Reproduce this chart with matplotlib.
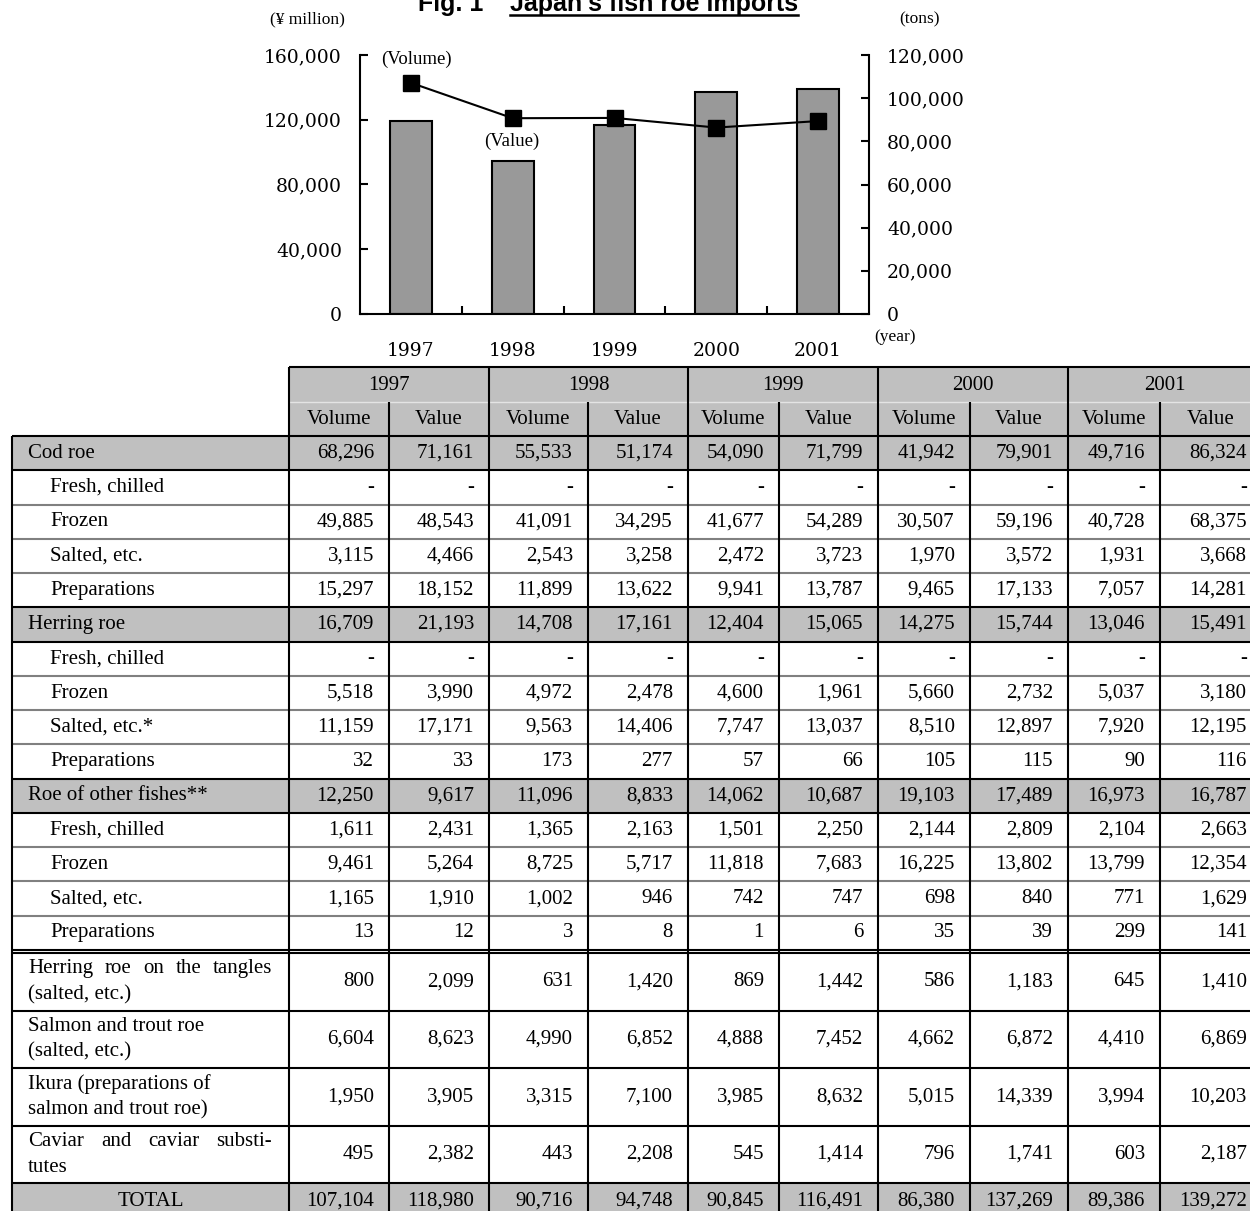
import matplotlib
matplotlib.use("Agg")
import matplotlib.pyplot as plt
import numpy as np

# ============================================================
# DATA
# ============================================================

years = ["1997", "1998", "1999", "2000", "2001"]

# totals (used by the chart and the TOTAL row)
total_volume = [107104, 90716, 90845, 86380, 89386]      # tons
total_value = [118980, 94748, 116491, 137269, 139272]    # million yen

# table rows: volume, value for each year (None = "-")
cod_roe = [68296, 71161, 55533, 51174, 54090, 71799, 41942, 79901, 49716, 86324]
cod_fresh = [None] * 10
cod_frozen = [49885, 48543, 41091, 34295, 41677, 54289, 30507, 59196, 40728, 68375]
cod_salted = [3115, 4466, 2543, 3258, 2472, 3723, 1970, 3572, 1931, 3668]
cod_prep = [15297, 18152, 11899, 13622, 9941, 13787, 9465, 17133, 7057, 14281]

herring_roe = [16709, 21193, 14708, 17161, 12404, 15065, 14275, 15744, 13046, 15491]
herring_fresh = [None] * 10
herring_frozen = [5518, 3990, 4972, 2478, 4600, 1961, 5660, 2732, 5037, 3180]
herring_salted = [11159, 17171, 9563, 14406, 7747, 13037, 8510, 12897, 7920, 12195]
herring_prep = [32, 33, 173, 277, 57, 66, 105, 115, 90, 116]

other_roe = [12250, 9617, 11096, 8833, 14062, 10687, 19103, 17489, 16973, 16787]
other_fresh = [1611, 2431, 1365, 2163, 1501, 2250, 2144, 2809, 2104, 2663]
other_frozen = [9461, 5264, 8725, 5717, 11818, 7683, 16225, 13802, 13799, 12354]
other_salted = [1165, 1910, 1002, 946, 742, 747, 698, 840, 771, 1629]
other_prep = [13, 12, 3, 8, 1, 6, 35, 39, 299, 141]

tangles = [800, 2099, 631, 1420, 869, 1442, 586, 1183, 645, 1410]
salmon_roe = [6604, 8623, 4990, 6852, 4888, 7452, 4662, 6872, 4410, 6869]
ikura = [1950, 3905, 3315, 7100, 3985, 8632, 5015, 14339, 3994, 10203]
caviar = [495, 2382, 443, 2208, 545, 1414, 796, 1741, 603, 2187]

total_row = [v for pair in zip(total_volume, total_value) for v in pair]

# ============================================================
# FIGURE
# ============================================================

W, H = 1250, 1211
fig = plt.figure(figsize=(W / 100, H / 100), dpi=100)
renderer = fig.canvas.get_renderer()

# overlay in pixel coordinates for the table and free text
ov = fig.add_axes([0, 0, 1, 1])
ov.set_xlim(0, W)
ov.set_ylim(H, 0)
ov.axis("off")

SERIF_T = "Liberation Serif"
SERIF_C = "DejaVu Serif"

# ---------------- chart ----------------
x = np.arange(len(years))
ax = fig.add_axes([360 / W, 1 - 314 / H, (869 - 360) / W, (314 - 55) / H])
ax.patch.set_visible(False)
ax.bar(x, total_value, width=0.41, color="#999999", edgecolor="black",
       linewidth=1.5, zorder=2)
ax.set_xlim(-0.5, 4.5)
ax.set_ylim(0, 160000)
ax.set_yticks(np.arange(0, 160001, 40000))
ax.set_yticklabels([f"{v:,}" for v in range(0, 160001, 40000)])
ax.set_xticks(x)
ax.set_xticklabels(years)
ax.set_xticks(x[:-1] + 0.5, minor=True)
ax.tick_params(axis="y", direction="in", length=6, width=1.5, pad=13,
               labelsize=13.5)
ax.tick_params(axis="x", which="major", length=0, pad=20, labelsize=13.5)
ax.tick_params(axis="x", which="minor", direction="in", length=6, width=1.5)
for lab in ax.get_xticklabels() + ax.get_yticklabels():
    lab.set_fontfamily(SERIF_C)
ax.spines["top"].set_visible(False)
ax.spines["right"].set_visible(False)
ax.spines["left"].set_linewidth(1.5)
ax.spines["bottom"].set_linewidth(1.5)

ax2 = ax.twinx()
ax2.plot(x, total_volume, color="black", linewidth=1.5, marker="s",
         markersize=11, zorder=3)
ax2.set_ylim(0, 120000)
ax2.set_yticks(np.arange(0, 120001, 20000))
ax2.set_yticklabels([f"{v:,}" for v in range(0, 120001, 20000)])
ax2.tick_params(axis="y", direction="in", length=6, width=1.5, pad=13,
                labelsize=13.5)
for lab in ax2.get_yticklabels():
    lab.set_fontfamily(SERIF_C)
for s in ["top", "left", "bottom"]:
    ax2.spines[s].set_visible(False)
ax2.spines["right"].set_linewidth(1.5)

# chart annotations
ov.text(416, 59, "(Volume)", family=SERIF_T, fontsize=13.5, ha="center", va="center")
ov.text(512, 141, "(Value)", family=SERIF_T, fontsize=13.5, ha="center", va="center")
ov.text(307, 19, "(\u00a5 million)", family=SERIF_T, fontsize=12.5, ha="center", va="center")
ov.text(920, 19, "(tons)", family=SERIF_T, fontsize=12.5, ha="center", va="center")
ov.text(895, 337, "(year)", family=SERIF_T, fontsize=12.5, ha="center", va="center")

# title with underline
ov.text(418, 11, "Fig. 1", family="Liberation Sans", fontweight="bold",
        fontsize=18, va="baseline")
t2 = ov.text(510, 11, "Japan's fish roe imports", family="Liberation Sans",
             fontweight="bold", fontsize=18, va="baseline")
bb = t2.get_window_extent(renderer)
ov.plot([bb.x0, bb.x1], [15, 15], color="black", linewidth=1.8)

# ---------------- table ----------------
FS = 15
GRAY = "#c0c0c0"
col_x = [289, 389, 489, 588, 688, 779, 878, 970, 1068, 1160, 1262]
left_x = 12

rows = [
    ("Cod roe", cod_roe, "group"),
    ("Fresh, chilled", cod_fresh, "sub"),
    ("Frozen", cod_frozen, "sub"),
    ("Salted, etc.", cod_salted, "sub"),
    ("Preparations", cod_prep, "sub"),
    ("Herring roe", herring_roe, "group"),
    ("Fresh, chilled", herring_fresh, "sub"),
    ("Frozen", herring_frozen, "sub"),
    ("Salted, etc.*", herring_salted, "sub"),
    ("Preparations", herring_prep, "sub"),
    ("Roe of other fishes**", other_roe, "group"),
    ("Fresh, chilled", other_fresh, "sub"),
    ("Frozen", other_frozen, "sub"),
    ("Salted, etc.", other_salted, "sub"),
    ("Preparations", other_prep, "sub"),
    (["Herring roe on the tangles", "(salted, etc.)"], tangles, "tall_j"),
    (["Salmon and trout roe", "(salted, etc.)"], salmon_roe, "tall"),
    (["Ikura (preparations of", "salmon and trout roe)"], ikura, "tall"),
    (["Caviar and caviar substi-", "tutes"], caviar, "tall_j"),
    ("TOTAL", total_row, "total"),
]

# row boundaries
edges = [436 + i * (950 - 436) / 15 for i in range(16)]
tall_edges = [953 + i * (1183 - 953) / 4 for i in range(5)]
row_spans = list(zip(edges[:-1], edges[1:])) + list(zip(tall_edges[:-1], tall_edges[1:]))
row_spans.append((1183, 1220))


def hline(y, x0, x1, color="black", lw=1.5):
    ov.plot([x0, x1], [y, y], color=color, linewidth=lw, solid_capstyle="butt")


def vline(xv, y0, y1, color="black", lw=1.5):
    ov.plot([xv, xv], [y0, y1], color=color, linewidth=lw, solid_capstyle="butt")


def justify(words, x0, x1, y):
    ts = [ov.text(0, y, w, family=SERIF_T, fontsize=FS, va="center") for w in words]
    widths = [t.get_window_extent(renderer).width for t in ts]
    gap = (x1 - x0 - sum(widths)) / (len(words) - 1)
    xx = x0
    for t, w in zip(ts, widths):
        t.set_x(xx)
        xx += w + gap


# header
ov.add_patch(plt.Rectangle((col_x[0], 367), col_x[-1] - col_x[0], 436 - 367,
                           facecolor=GRAY, edgecolor="none", zorder=0))
hline(367, col_x[0], col_x[-1])
hline(402, col_x[0], col_x[-1], color="#e4e4e4", lw=1)
for i, yr in enumerate(years):
    xa, xm, xb = col_x[2 * i], col_x[2 * i + 1], col_x[2 * i + 2]
    ov.text((xa + xb) / 2, 385, yr, family=SERIF_T, fontsize=FS, ha="center", va="center")
    ov.text((xa + xm) / 2, 419, "Volume", family=SERIF_T, fontsize=FS, ha="center", va="center")
    ov.text((xm + xb) / 2, 419, "Value", family=SERIF_T, fontsize=FS, ha="center", va="center")

# body
for (label, vals, kind), (y0, y1) in zip(rows, row_spans):
    yc = (y0 + y1) / 2
    if kind in ("group", "total"):
        ov.add_patch(plt.Rectangle((left_x, y0), col_x[-1] - left_x, y1 - y0,
                                   facecolor=GRAY, edgecolor="none", zorder=0))
    if kind == "group":
        ov.text(28, yc, label, family=SERIF_T, fontsize=FS, va="center")
    elif kind == "sub":
        ov.text(50, yc, label, family=SERIF_T, fontsize=FS, va="center")
    elif kind == "total":
        ov.text((left_x + col_x[0]) / 2, yc, label, family=SERIF_T, fontsize=FS,
                ha="center", va="center")
    elif kind == "tall_j":
        justify(label[0].split(" "), 28, 272, yc - 13)
        ov.text(28, yc + 13, label[1], family=SERIF_T, fontsize=FS, va="center")
    else:
        ov.text(28, yc - 13, label[0], family=SERIF_T, fontsize=FS, va="center")
        ov.text(28, yc + 13, label[1], family=SERIF_T, fontsize=FS, va="center")
    for j, v in enumerate(vals):
        txt = "-" if v is None else f"{v:,}"
        ov.text(col_x[j + 1] - 15, yc, txt, family=SERIF_T, fontsize=FS,
                ha="right", va="center")

# horizontal rules
kinds = [r[2] for r in rows]
hline(436, left_x, col_x[-1])
for i in range(len(rows) - 1):
    y = row_spans[i][1]
    if i == 14:
        hline(950, left_x, col_x[-1])
        hline(953, left_x, col_x[-1])
        continue
    if kinds[i] == "sub" and kinds[i + 1] == "sub":
        hline(y, left_x, col_x[-1], color="#808080")
    else:
        hline(y, left_x, col_x[-1])

# vertical rules
vline(left_x, 436, H + 5)
vline(col_x[0], 367, H + 5)
for k in range(1, len(col_x) - 1):
    top = 402 if k % 2 == 1 else 367
    vline(col_x[k], top, H + 5)

fig.savefig("out.png", dpi=100)
